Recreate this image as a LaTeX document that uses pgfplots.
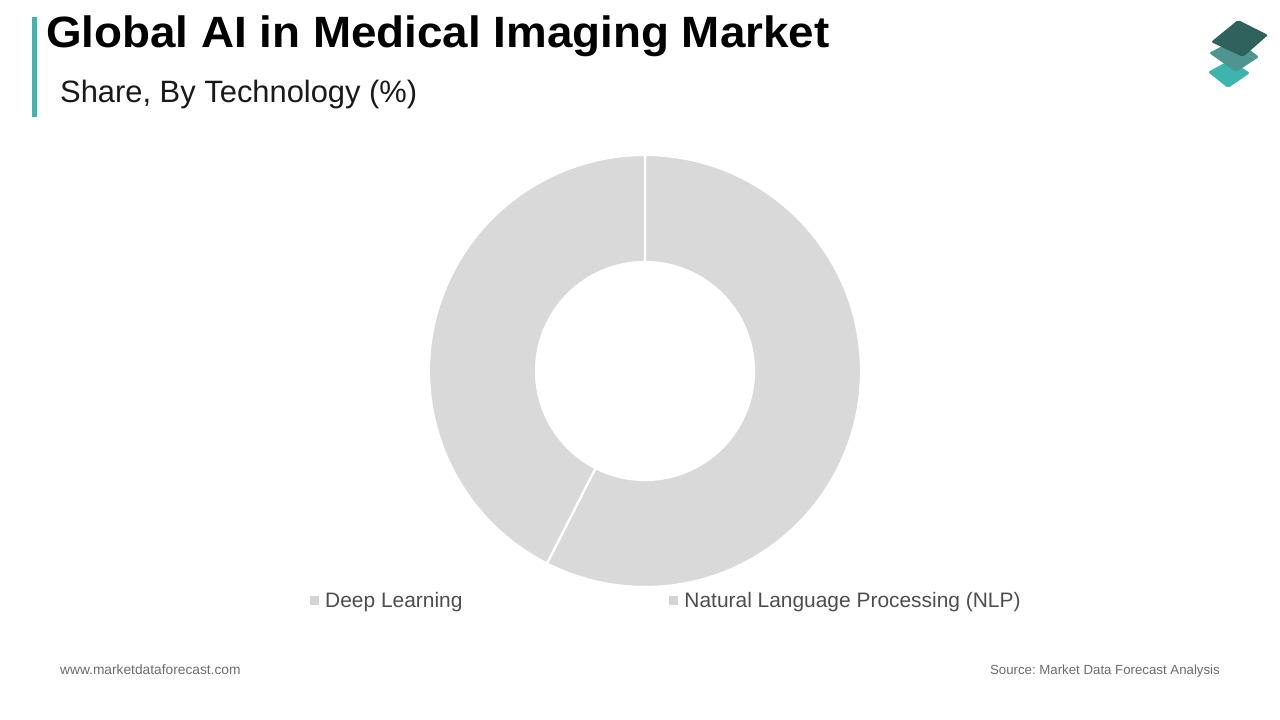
\documentclass[border=0pt]{standalone}
\usepackage{pgfplots}
\pgfplotsset{compat=1.18}
\usepackage{pgfplotstable}
\usepackage{fontspec}
\setmainfont{Liberation Sans}
\frenchspacing

\definecolor{ringgray}{HTML}{D9D9D9}
\definecolor{keygray}{HTML}{D3D3D3}
\definecolor{legtext}{HTML}{4D4D4D}
\definecolor{foot}{HTML}{6B6B6B}
\definecolor{tealbar}{HTML}{4DB0AA}
\definecolor{logoA}{HTML}{2F615D}
\definecolor{logoB}{HTML}{4E958F}
\definecolor{logoC}{HTML}{3DB5AE}

% share by technology, %
\pgfplotstableread[col sep=comma]{
tech,share
Deep Learning,57.5
Natural Language Processing (NLP),42.5
}\sharetable

\begin{document}
\begin{tikzpicture}
\pgfplotstablegetelem{0}{share}\of\sharetable \let\shareA\pgfplotsretval
\pgfplotstablegetelem{1}{share}\of\sharetable \let\shareB\pgfplotsretval
\pgfmathsetmacro\angA{90-3.6*\shareA}
\pgfmathsetmacro\angB{\angA-3.6*\shareB}
\def\Rout{216bp}
\def\Rin{109bp}
\begin{axis}[
    width=1280bp, height=720bp, scale only axis,
    xmin=0, xmax=1280, ymin=0, ymax=720,
    hide axis, clip=false,
    legend columns=2,
    legend image code/.code={\fill[#1] (0bp,-4.5bp) rectangle (9bp,4.5bp);},
    legend style={at={(axis description cs:0.2422,0.1653)}, anchor=west,
        draw=none, fill=none, inner sep=0pt, nodes={inner sep=0pt},
        font=\fontsize{21}{25}\selectfont, text=legtext,
        /tikz/every odd column/.append style={column sep=6bp},
        /tikz/every even column/.append style={column sep=207bp}},
]
% donut
\coordinate (c) at (axis cs:645,349);
\fill[ringgray, draw=white, line width=2.2bp]
    ([shift={(90:\Rout)}]c) arc[start angle=90, end angle=\angA, radius=\Rout]
    -- ([shift={(\angA:\Rin)}]c) arc[start angle=\angA, end angle=90, radius=\Rin] -- cycle;
\fill[ringgray, draw=white, line width=2.2bp]
    ([shift={(\angA:\Rout)}]c) arc[start angle=\angA, end angle=\angB, radius=\Rout]
    -- ([shift={(\angB:\Rin)}]c) arc[start angle=\angB, end angle=\angA, radius=\Rin] -- cycle;

\addlegendimage{fill=keygray, draw=none}
\addlegendentry{Deep Learning}
\addlegendimage{fill=keygray, draw=none}
\addlegendentry{Natural Language Processing (NLP)}

% heading
\fill[tealbar] (axis cs:32,603) rectangle (axis cs:37,703);
\node[anchor=base west, inner sep=0pt, font=\bfseries\fontsize{44}{50}\selectfont]
    at (axis cs:46,672.5) {\scalebox{1.044}[1]{Global AI in Medical Imaging Market}};
\node[anchor=base west, inner sep=0pt, text=black!90, font=\fontsize{31}{36}\selectfont]
    at (axis cs:60,617.5) {Share, By Technology (\%)};

% logo
\fill[logoC, rounded corners=2bp] (axis cs:1208,648) -- (axis cs:1230,660) -- (axis cs:1250,647) -- (axis cs:1228,632) -- cycle;
\fill[logoB, rounded corners=2bp] (axis cs:1209,667) -- (axis cs:1236,681) -- (axis cs:1259,663) -- (axis cs:1236,648) -- cycle;
\fill[logoA, rounded corners=2bp] (axis cs:1211,678) -- (axis cs:1238,700) -- (axis cs:1268,685) -- (axis cs:1243,663) -- cycle;

% footer
\node[anchor=base west, inner sep=0pt, text=foot, font=\fontsize{13.8}{16}\selectfont]
    at (axis cs:60,45) {www.marketdataforecast.com};
\node[anchor=base east, inner sep=0pt, text=foot, font=\fontsize{13.3}{16}\selectfont]
    at (axis cs:1220,45) {Source: Market Data Forecast Analysis};
\end{axis}
\pgfresetboundingbox
\path (current axis.south west) rectangle (current axis.north east);
\end{tikzpicture}
\end{document}
